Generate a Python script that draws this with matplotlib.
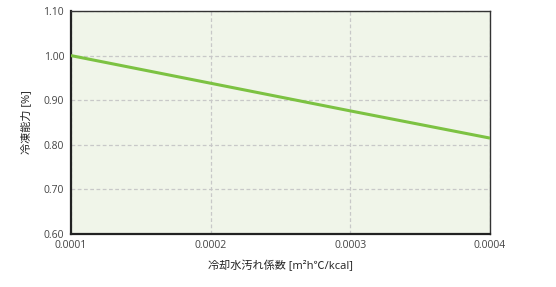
import matplotlib.pyplot as plt

plt.rcParams['font.family'] = ['Open Sans', 'Noto Sans CJK JP', 'DejaVu Sans']

# fouling factor vs. refrigerating capacity
fouling = [0.0001, 0.0002, 0.0003, 0.0004]
capacity = [1.00, 0.938, 0.876, 0.815]

x_ticks = [0.0001, 0.0002, 0.0003, 0.0004]
x_labels = ['0.0001', '0.0002', '0.0003', '0.0004']
y_ticks = [0.60, 0.70, 0.80, 0.90, 1.00, 1.10]
y_labels = ['0.60', '0.70', '0.80', '0.90', '1.00', '1.10']

fig = plt.figure(figsize=(5.56, 2.87), dpi=100)
ax = fig.add_axes([0.1277, 0.1847, 0.7536, 0.777])
ax.set_facecolor('#f0f5e9')

ax.plot(fouling, capacity, color='#7cc242', linewidth=2.2, solid_capstyle='butt', zorder=3)

ax.set_xlim(0.0001, 0.0004)
ax.set_ylim(0.6, 1.1)
ax.set_xticks(x_ticks)
ax.set_xticklabels(x_labels)
ax.set_yticks(y_ticks)
ax.set_yticklabels(y_labels)
ax.tick_params(length=0, labelsize=7.5, colors='#444444')
ax.tick_params(axis='y', pad=5)
ax.tick_params(axis='x', pad=4.5)

ax.grid(True, color='#c8c8c8', linestyle=(0, (3, 2)), linewidth=0.9)
ax.set_axisbelow(True)

for side in ['left', 'bottom']:
    ax.spines[side].set_linewidth(1.6)
    ax.spines[side].set_color('#222222')
for side in ['top', 'right']:
    ax.spines[side].set_linewidth(1.0)
    ax.spines[side].set_color('#333333')

ax.set_xlabel('冷却水汚れ係数 [m²h℃/kcal]', fontsize=8, color='#222222', labelpad=7)
ax.set_ylabel('冷凍能力 [%]', fontsize=8, color='#222222', labelpad=8)

fig.savefig('out.png', dpi=100)
